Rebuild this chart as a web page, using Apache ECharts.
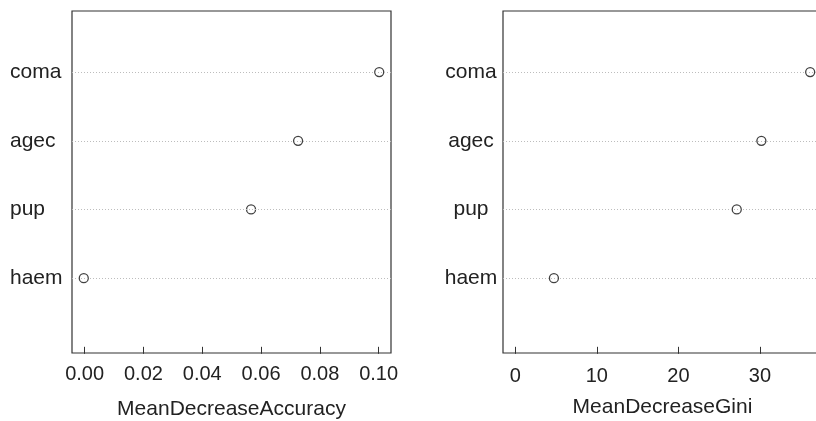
<!DOCTYPE html>
<html>
<head>
<meta charset="utf-8">
<script src="https://cdn.jsdelivr.net/npm/echarts@6/dist/echarts.min.js"></script>
<style>
    html, body { margin: 0; padding: 0; background: #fff; }
    #chart { width: 816px; height: 421px; }
</style>
</head>
<body>
<div id="chart"></div>
<script>
// variables, bottom to top as in the dotchart
var vars = ['haem', 'pup', 'agec', 'coma'];
var accuracy = [-0.0003, 0.0566, 0.0726, 0.1002];
var gini = [4.74, 27.15, 30.17, 36.15];
var accTicks = [0, 0.02, 0.04, 0.06, 0.08, 0.10];
var giniTicks = [0, 10, 20, 30];
var rowPos = [1, 2, 3, 4];

var FONT = 'Liberation Sans, Arial, Helvetica, sans-serif';

class Main {
    constructor() {
        this.chart = echarts.init(document.getElementById('chart'), null, { renderer: 'canvas' });
    }
    points(values) {
        return values.map(function (v, i) { return [v, rowPos[i]]; });
    }
    xAxis(idx, min, max, ticks, name, digits, labelMargin, nameGap) {
        return {
            type: 'value', gridIndex: idx, min: min, max: max,
            axisLine: { show: false },
            splitLine: { show: false },
            axisTick: { show: true, inside: false, length: 7, customValues: ticks, lineStyle: { color: '#333', width: 1 } },
            axisLabel: {
                customValues: ticks, margin: labelMargin, color: '#222', fontSize: 20, fontFamily: FONT,
                formatter: function (v) { return Number(v).toFixed(digits); }
            },
            name: name, nameLocation: 'middle', nameGap: nameGap,
            nameTextStyle: { color: '#222', fontSize: 21, fontFamily: FONT }
        };
    }
    yAxis(idx, align, margin) {
        return {
            type: 'value', gridIndex: idx, min: -0.09, max: 4.89,
            axisLine: { show: false },
            axisTick: { show: false },
            splitLine: { show: false },
            axisLabel: {
                customValues: rowPos, align: align, margin: margin,
                color: '#222', fontSize: 21, fontFamily: FONT,
                formatter: function (v) { return vars[Math.round(v) - 1]; }
            }
        };
    }
    series(idx, values) {
        return {
            type: 'scatter', xAxisIndex: idx, yAxisIndex: idx,
            data: this.points(values),
            symbol: 'circle', symbolSize: 9,
            itemStyle: { color: '#fff', borderColor: '#111', borderWidth: 1.3 },
            silent: true,
            markLine: {
                silent: true, symbol: 'none', label: { show: false },
                lineStyle: { color: '#bdbdbd', type: [1, 2], width: 1 },
                data: rowPos.map(function (p) { return { yAxis: p }; })
            },
            z: 3
        };
    }
    init() {
        var box = {
            show: true, borderColor: '#333', borderWidth: 1.2, backgroundColor: 'transparent',
            containLabel: false, outerBoundsMode: 'none'
        };
        var option = {
            animation: false,
            backgroundColor: '#fff',
            grid: [
                Object.assign({ left: 72, top: 11, width: 319, height: 342 }, box),
                Object.assign({ left: 503, top: 11, width: 319, height: 342 }, box)
            ],
            xAxis: [
                this.xAxis(0, -0.0043, 0.1042, accTicks, 'MeanDecreaseAccuracy', 2, 11, 46),
                this.xAxis(1, -1.5, 37.6, giniTicks, 'MeanDecreaseGini', 0, 13, 44)
            ],
            yAxis: [
                this.yAxis(0, 'left', 62),
                this.yAxis(1, 'center', 32)
            ],
            series: [
                this.series(0, accuracy),
                this.series(1, gini)
            ]
        };
        this.chart.setOption(option);
    }
}
var main = new Main();
main.init();
</script>
</body>
</html>
